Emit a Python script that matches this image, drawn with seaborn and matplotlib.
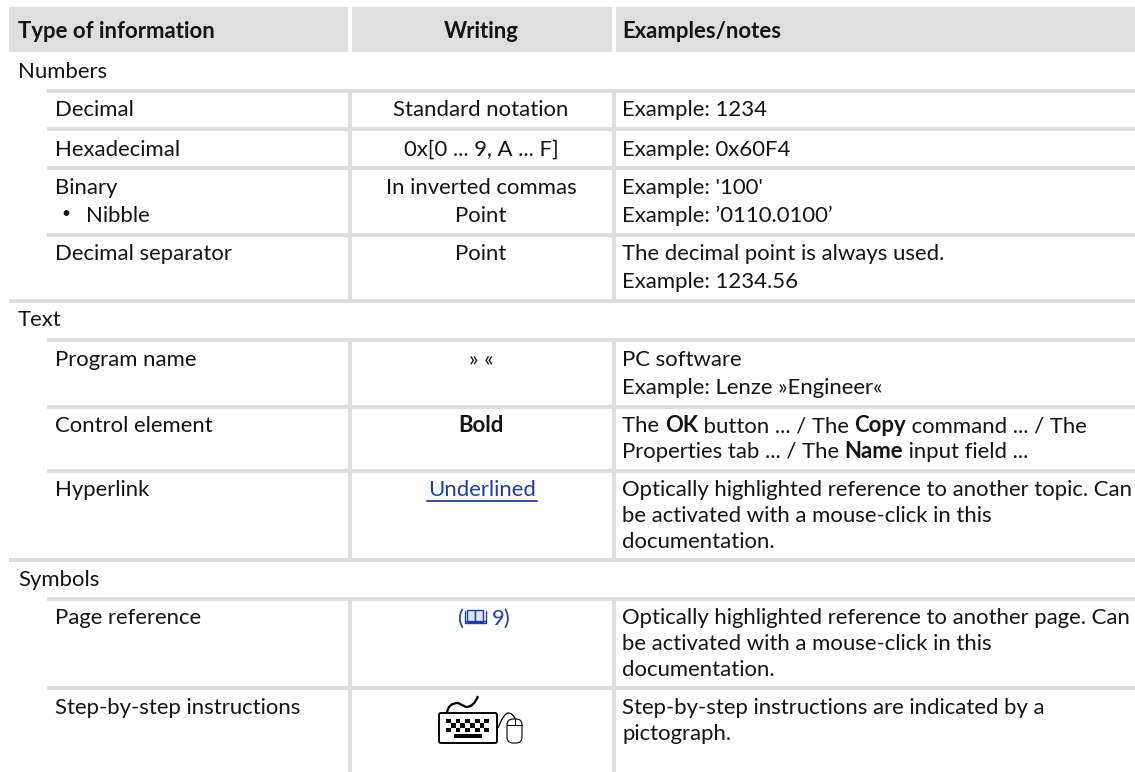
import matplotlib
matplotlib.use("Agg")
import matplotlib.pyplot as plt
import seaborn as sns
from matplotlib.patches import Rectangle, FancyBboxPatch, PathPatch
from matplotlib.path import Path

GREY = "#dedede"
INK = "#141414"
BLUE = "#1f3f97"

headers = ["Type of information", "Writing", "Examples/notes"]
sections = [("Numbers", 71), ("Text", 319), ("Symbols", 578)]
row_lines = [89, 127, 166, 233, 299, 338, 405, 469, 558, 597, 686]
full_lines = [299, 558]

names = [("Decimal", 109), ("Hexadecimal", 148), ("Binary", 187), ("Decimal separator", 253),
         ("Program name", 359), ("Control element", 425), ("Hyperlink", 488),
         ("Page reference", 617), ("Step-by-step instructions", 707)]
writing = [("Standard notation", 109), ("0x[0 ... 9, A ... F]", 148), ("In inverted commas", 187),
           ("Point", 214), ("Point", 253), ("» «", 359)]
notes = [
    ("Example: 1234", 109), ("Example: 0x60F4", 148), ("Example: '100'", 187),
    ("Example: ’0110.0100’", 214), ("The decimal point is always used.", 253),
    ("Example: 1234.56", 280), ("PC software", 359), ("Example: Lenze »Engineer«", 386),
    ("Optically highlighted reference to another topic. Can", 488),
    ("be activated with a mouse-click in this", 514), ("documentation.", 540),
    ("Optically highlighted reference to another page. Can", 617),
    ("be activated with a mouse-click in this", 643), ("documentation.", 668),
    ("Step-by-step instructions are indicated by a", 707), ("pictograph.", 733),
]
mixed = [
    ([("The ", 0), ("OK", 1), (" button ... / The ", 0), ("Copy", 1), (" command ... / The", 0)], 425),
    ([("Properties tab ... / The ", 0), ("Name", 1), (" input field ...", 0)], 451),
]

sns.set_theme(style="white")
plt.rcParams["font.family"] = ["Lato", "DejaVu Sans"]
FS = 15.9

fig = plt.figure(figsize=(11.35, 7.72), dpi=100)
ax = fig.add_axes([0, 0, 1, 1])
ax.set_xlim(0, 1135)
ax.set_ylim(772, 0)
ax.axis("off")


def label(x, y, s, color=INK, ha="left", bold=False):
    # y is the middle of the capitals, so lines with descenders stay aligned
    return ax.text(x, y + 7.5, s, fontsize=FS, color=color, ha=ha, va="baseline",
                   fontweight="bold" if bold else "normal")


# header band
for x0, x1 in [(9, 348), (352, 612), (616, 1135)]:
    ax.add_patch(Rectangle((x0, 7), x1 - x0, 45, color=GREY, lw=0))
label(18, 31, headers[0], bold=True)
label(481, 31, headers[1], ha="center", bold=True)
label(622, 31, headers[2], bold=True)

# grid
for y in row_lines:
    x0 = 9 if y in full_lines else 47
    ax.add_patch(Rectangle((x0, y), 1135 - x0, 4, color=GREY, lw=0))
for x in [348, 612]:
    for y0, y1 in [(89, 299), (338, 558), (597, 772)]:
        ax.add_patch(Rectangle((x, y0), 4, y1 - y0, color=GREY, lw=0))

for s, y in sections:
    label(18, y, s)
for s, y in names:
    label(55, y, s)
ax.text(61, 214, "•", fontsize=FS * 0.7, color=INK, va="center")
label(86, 214, "Nibble")
for s, y in writing:
    label(481, y, s, ha="center")
for s, y in notes:
    label(622, y, s)

label(481, 425, "Bold", ha="center", bold=True)
label(482, 488, "Underlined", color=BLUE, ha="center")
ax.plot([427, 537], [500.5, 500.5], color=BLUE, lw=1.3)

# runs of regular and bold text on one line
r = fig.canvas.get_renderer()
for parts, y in mixed:
    x = 622
    for s, bold in parts:
        t = label(x, y, s, bold=bool(bold))
        x += t.get_window_extent(r).width

# page reference with book glyph
label(458, 617, "(", color=BLUE)
label(492, 617, "9)", color=BLUE)
ax.add_patch(Rectangle((467, 610), 8, 12, fc="#dfe4f2", ec=BLUE, lw=1))
ax.add_patch(Rectangle((475, 610), 8, 12, fc="#dfe4f2", ec=BLUE, lw=1))
ax.plot([465, 486, 486, 465, 465], [621, 621, 623, 623, 621], color=BLUE, lw=1)
ax.plot([465, 465], [611, 621], color=BLUE, lw=1)
ax.plot([486, 486], [611, 621], color=BLUE, lw=1)

# keyboard and mouse pictograph
ax.add_patch(PathPatch(Path([(447, 713), (448, 703), (458, 703), (466, 707), (474, 707), (478, 696)],
                            [Path.MOVETO, Path.CURVE3, Path.CURVE3, Path.LINETO, Path.CURVE3, Path.CURVE3]),
                       fc="none", ec="black", lw=1.6))
ax.add_patch(FancyBboxPatch((439, 713), 58, 30, boxstyle="round,pad=0,rounding_size=2",
                            fc="white", ec="black", lw=1.4))
for row, y in enumerate([719, 723.3, 727.6]):
    for i in range(9):
        if (i + row) % 2 == 0:
            ax.add_patch(Rectangle((446 + i * 4.8, y), 4.8, 4.3, color="black", lw=0))
ax.add_patch(Rectangle((454, 734), 28, 3.5, color="black", lw=0))
ax.add_patch(PathPatch(Path([(498, 728), (504, 713), (508, 713), (513, 713), (515, 719)],
                            [Path.MOVETO, Path.CURVE3, Path.LINETO, Path.CURVE3, Path.CURVE3]),
                       fc="none", ec="black", lw=0.9))
ax.add_patch(FancyBboxPatch((507, 719), 15, 24, boxstyle="round,pad=0,rounding_size=6",
                            fc="white", ec="black", lw=0.8))
ax.plot([507, 522], [725, 725], color="black", lw=0.7)
ax.plot([514.5, 514.5], [719, 725], color="black", lw=0.7)

fig.savefig("out.png", dpi=100)
